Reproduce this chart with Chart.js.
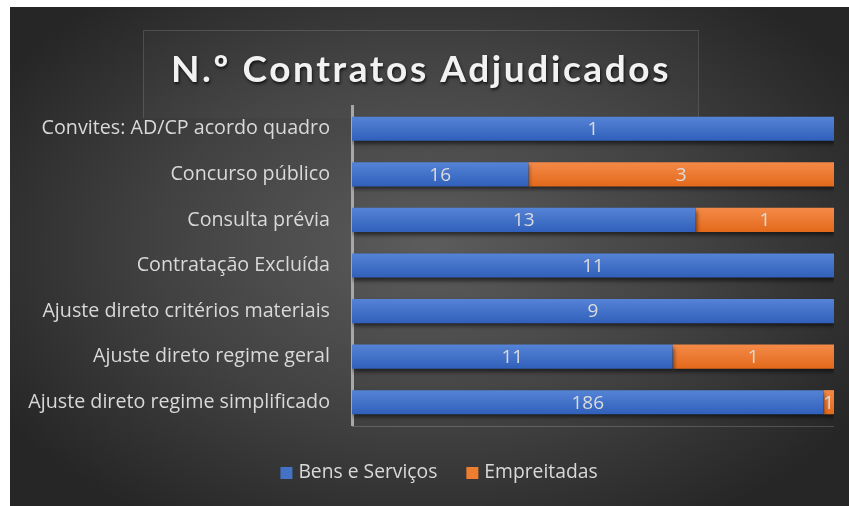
<!DOCTYPE html>
<html>
<head>
<meta charset="utf-8">
<script src="https://cdn.jsdelivr.net/npm/chart.js@4/dist/chart.umd.min.js"></script>
<style>
  html, body { margin: 0; padding: 0; background: #ffffff; }
  #wrap {
    position: absolute; left: 10px; top: 7px; width: 839px; height: 499px;
    background: radial-gradient(ellipse 60% 65% at 50% 48%, #5c5c5c 0%, #414141 55%, #262626 100%);
  }
  canvas { display: block; }
</style>
</head>
<body>
<div id="wrap"><canvas id="c" width="839" height="499"></canvas></div>
<script>
// ---- data ----
const categories = [
  "Convites: AD/CP acordo quadro",
  "Concurso público",
  "Consulta prévia",
  "Contratação Excluída",
  "Ajuste direto critérios materiais",
  "Ajuste direto regime geral",
  "Ajuste direto regime simplificado"
];
const seriesNames = ["Bens e Serviços", "Empreitadas"];
// share of each bar (percent of full width) as drawn
const bensShare = [100, 36.6, 71.3, 100, 100, 66.5, 97.8];
const empShare  = [0, 63.4, 28.7, 0, 0, 33.5, 2.2];
// counts shown as data labels
const bensCount = [1, 16, 13, 11, 9, 11, 186];
const empCount  = [null, 3, 1, null, null, 1, 1];
const titleText = "N.º Contratos Adjudicados";

const FONT = "'Open Sans', sans-serif";
const TFONT = "Lato, 'Open Sans', sans-serif";
const legendColors = ['#4472c4', '#ed7d31'];

function grad(top, bottom) {
  return function(c) {
    const chart = c.chart;
    const ys = chart.scales && chart.scales.y;
    if (!ys || c.dataIndex === undefined) return top;
    const y = ys.getPixelForValue(c.dataIndex);
    if (!isFinite(y)) return top;
    const h = 12;
    const g = chart.ctx.createLinearGradient(0, y - h, 0, y + h);
    g.addColorStop(0, top);
    g.addColorStop(1, bottom);
    return g;
  };
}

const decor = {
  id: 'decor',
  beforeDraw(chart) {
    const ctx = chart.ctx;
    ctx.save();
    // title box
    ctx.fillStyle = 'rgba(255,255,255,0.025)';
    ctx.fillRect(133, 23, 555, 88);
    ctx.strokeStyle = 'rgba(255,255,255,0.13)';
    ctx.lineWidth = 1;
    ctx.beginPath();
    ctx.moveTo(133.5, 111); ctx.lineTo(133.5, 23.5); ctx.lineTo(688.5, 23.5); ctx.lineTo(688.5, 111);
    ctx.stroke();
    // title text
    ctx.font = "bold 37px " + TFONT;
    ctx.textAlign = 'center';
    ctx.textBaseline = 'middle';
    try { ctx.letterSpacing = '2.6px'; } catch (e) {}
    ctx.shadowColor = 'rgba(0,0,0,0.7)';
    ctx.shadowOffsetX = 1; ctx.shadowOffsetY = 2; ctx.shadowBlur = 3;
    ctx.fillStyle = '#f2f2f2';
    ctx.fillText(titleText, 411, 63);
    ctx.restore();
    // bottom axis line
    const a = chart.chartArea;
    ctx.save();
    ctx.strokeStyle = 'rgba(255,255,255,0.18)';
    ctx.lineWidth = 1;
    ctx.beginPath();
    ctx.moveTo(a.left, a.bottom + 1.5); ctx.lineTo(a.right, a.bottom + 1.5);
    ctx.stroke();
    ctx.restore();
    // legend
    ctx.save();
    ctx.font = "19.3px " + FONT;
    ctx.textBaseline = 'middle';
    ctx.textAlign = 'left';
    const box = 12, gapBoxText = 6, gapItems = 29;
    const widths = seriesNames.map(s => ctx.measureText(s).width);
    let total = 0;
    widths.forEach((w, i) => { total += box + gapBoxText + w + (i ? gapItems : 0); });
    let x = 429 - total / 2;
    const y = 466;
    seriesNames.forEach((s, i) => {
      if (i) x += gapItems;
      ctx.fillStyle = legendColors[i];
      ctx.fillRect(x, y - box / 2, box, box);
      x += box + gapBoxText;
      ctx.fillStyle = '#d9d9d9';
      ctx.fillText(s, x, y);
      x += widths[i];
    });
    ctx.restore();
  },
  beforeDatasetsDraw(chart) {
    const ctx = chart.ctx;
    ctx.save();
    ctx.shadowColor = 'rgba(0,0,0,0.55)';
    ctx.shadowOffsetX = 1; ctx.shadowOffsetY = 3; ctx.shadowBlur = 4;
  },
  afterDatasetsDraw(chart) {
    const ctx = chart.ctx;
    ctx.restore();
    ctx.save();
    ctx.font = "19px " + FONT;
    ctx.fillStyle = '#dcdcdc';
    ctx.textAlign = 'center';
    ctx.textBaseline = 'middle';
    const counts = [bensCount, empCount];
    chart.data.datasets.forEach((ds, di) => {
      chart.getDatasetMeta(di).data.forEach((bar, i) => {
        const v = counts[di][i];
        if (v === null || v === undefined) return;
        const p = bar.getProps(['x', 'y', 'base'], true);
        const cx = (p.x + p.base) / 2;
        ctx.fillText(String(v), cx, p.y + 1);
      });
    });
    ctx.restore();
  }
};

new Chart(document.getElementById('c'), {
  type: 'bar',
  data: {
    labels: categories,
    datasets: [
      { label: seriesNames[0], data: bensShare,
        backgroundColor: grad('#5583d6', '#3060ba'),
        borderWidth: 0, barPercentage: 0.53, categoryPercentage: 1.0 },
      { label: seriesNames[1], data: empShare,
        backgroundColor: grad('#f48a48', '#e3691b'),
        borderWidth: 0, barPercentage: 0.53, categoryPercentage: 1.0 }
    ]
  },
  options: {
    indexAxis: 'y',
    responsive: false,
    animation: false,
    layout: { padding: { top: 99, right: 15, bottom: 81, left: 0 } },
    scales: {
      x: { stacked: true, min: 0, max: 100, display: false },
      y: {
        stacked: true,
        grid: { display: false, drawTicks: false },
        border: { display: true, color: '#a8a8a8', width: 3 },
        ticks: { color: '#d9d9d9', font: { family: FONT, size: 19.7 }, padding: 22 },
        afterFit(scale) { scale.width = 342; }
      }
    },
    plugins: {
      legend: { display: false },
      title: { display: false },
      tooltip: { enabled: false }
    }
  },
  plugins: [decor]
});
</script>
</body>
</html>
